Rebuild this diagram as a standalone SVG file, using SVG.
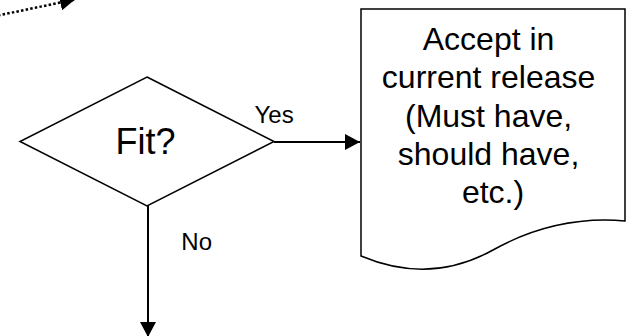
<svg xmlns="http://www.w3.org/2000/svg" width="633" height="336" viewBox="0 0 633 336">
  <style>
    .shape { fill: #ffffff; stroke: #000000; stroke-width: 1.5; stroke-linejoin: miter; }
    .conn { fill: none; stroke: #000000; stroke-width: 2; }
    .dotted { fill: none; stroke: #000000; stroke-width: 2.5; stroke-dasharray: 2.5 2.2; }
    .label { font-family: "Liberation Sans", Arial, sans-serif; fill: #000000; }
  </style>
  <defs>
    <marker id="arrow" viewBox="0 0 15 16" refX="15" refY="8" markerWidth="15" markerHeight="16" markerUnits="userSpaceOnUse" orient="auto">
      <path d="M0,0 L15,8 L0,16 z" fill="#000000"/>
    </marker>
  </defs>

  <!-- decision: Fit? -->
  <g id="decision-fit">
    <polygon class="shape" points="147,77 274,141.5 147,206 20,141.5"/>
    <text class="label" x="145.5" y="154" font-size="36" text-anchor="middle">Fit?</text>
  </g>

  <!-- document: accept in current release -->
  <g id="doc-accept">
    <path class="shape" d="M361,9 L625,9 L625,221 Q556,215 493,250 Q430,285 361,256 Z"/>
    <text class="label" font-size="32" text-anchor="middle">
      <tspan x="493" y="50">Accept in</tspan>
      <tspan x="493" y="88.3">current release</tspan>
      <tspan x="493" y="126.6">(Must have,</tspan>
      <tspan x="493" y="164.9">should have,</tspan>
      <tspan x="493" y="203.2">etc.)</tspan>
    </text>
  </g>

  <!-- connectors -->
  <g id="connectors">
    <line class="dotted" x1="-2" y1="15.5" x2="75" y2="-0.5" marker-end="url(#arrow)"/>
    <line class="conn" x1="274" y1="142" x2="360" y2="142" marker-end="url(#arrow)"/>
    <line class="conn" x1="148" y1="206" x2="148" y2="337" marker-end="url(#arrow)"/>
    <text class="label" x="254.5" y="122.7" font-size="24">Yes</text>
    <text class="label" x="181.3" y="249.5" font-size="24">No</text>
  </g>
</svg>
